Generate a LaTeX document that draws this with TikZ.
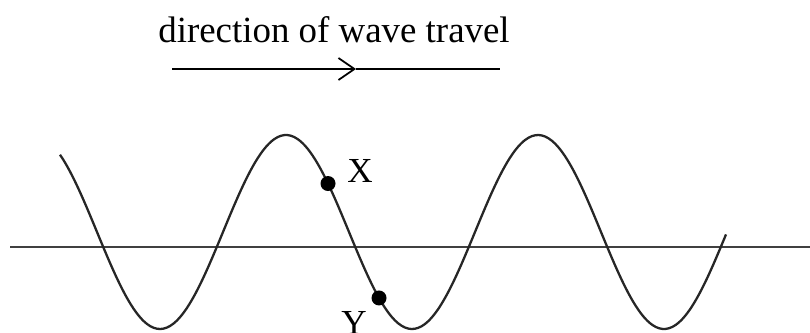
\documentclass[tikz,border=0pt]{standalone}
\usepackage{fontspec}
\setmainfont{Liberation Serif}
\usetikzlibrary{arrows.meta}
\begin{document}
\begin{tikzpicture}[x=0.02cm,y=-0.02cm,
  wave/.style={line width=1.3pt,black!85},
  axisline/.style={line width=1.3pt,black!75},
  lbl/.style={font=\fontsize{20}{22}\selectfont,inner sep=0pt},
  dot/.style={circle,fill=black,inner sep=0pt,minimum size=0.3cm},
  fl/.style={-{Straight Barb[length=3.2mm,width=4.4mm]},line width=1pt}]
\useasboundingbox (0,0) rectangle (810,332);
\node[lbl,font=\fontsize{21}{23}\selectfont,anchor=base] (title) at (334,42) {direction of wave travel};
\coordinate (arrL) at (172,69);
\coordinate (arrM) at (356,69);
\coordinate (arrR) at (500,69);
\draw[fl] (arrL) -- (arrM);
\draw[line width=1pt] (arrM) -- (arrR);
\coordinate (axL) at (10,247);
\coordinate (axR) at (810,247);
\draw[axisline] (axL) -- (axR);
\draw[wave,domain=60:726,samples=200,smooth] plot (\x,{232+97*cos((\x-160)*1.428571)});
\node[dot] (X) at (328,{232+97*cos((328-160)*1.428571)}) {};
\node[dot] (Y) at (379,{232+97*cos((379-160)*1.428571)}) {};
\node[lbl,anchor=base west] (Xl) at (347,182) {X};
\node[lbl,anchor=base] (Yl) at (354,334) {Y};
\end{tikzpicture}
\end{document}
